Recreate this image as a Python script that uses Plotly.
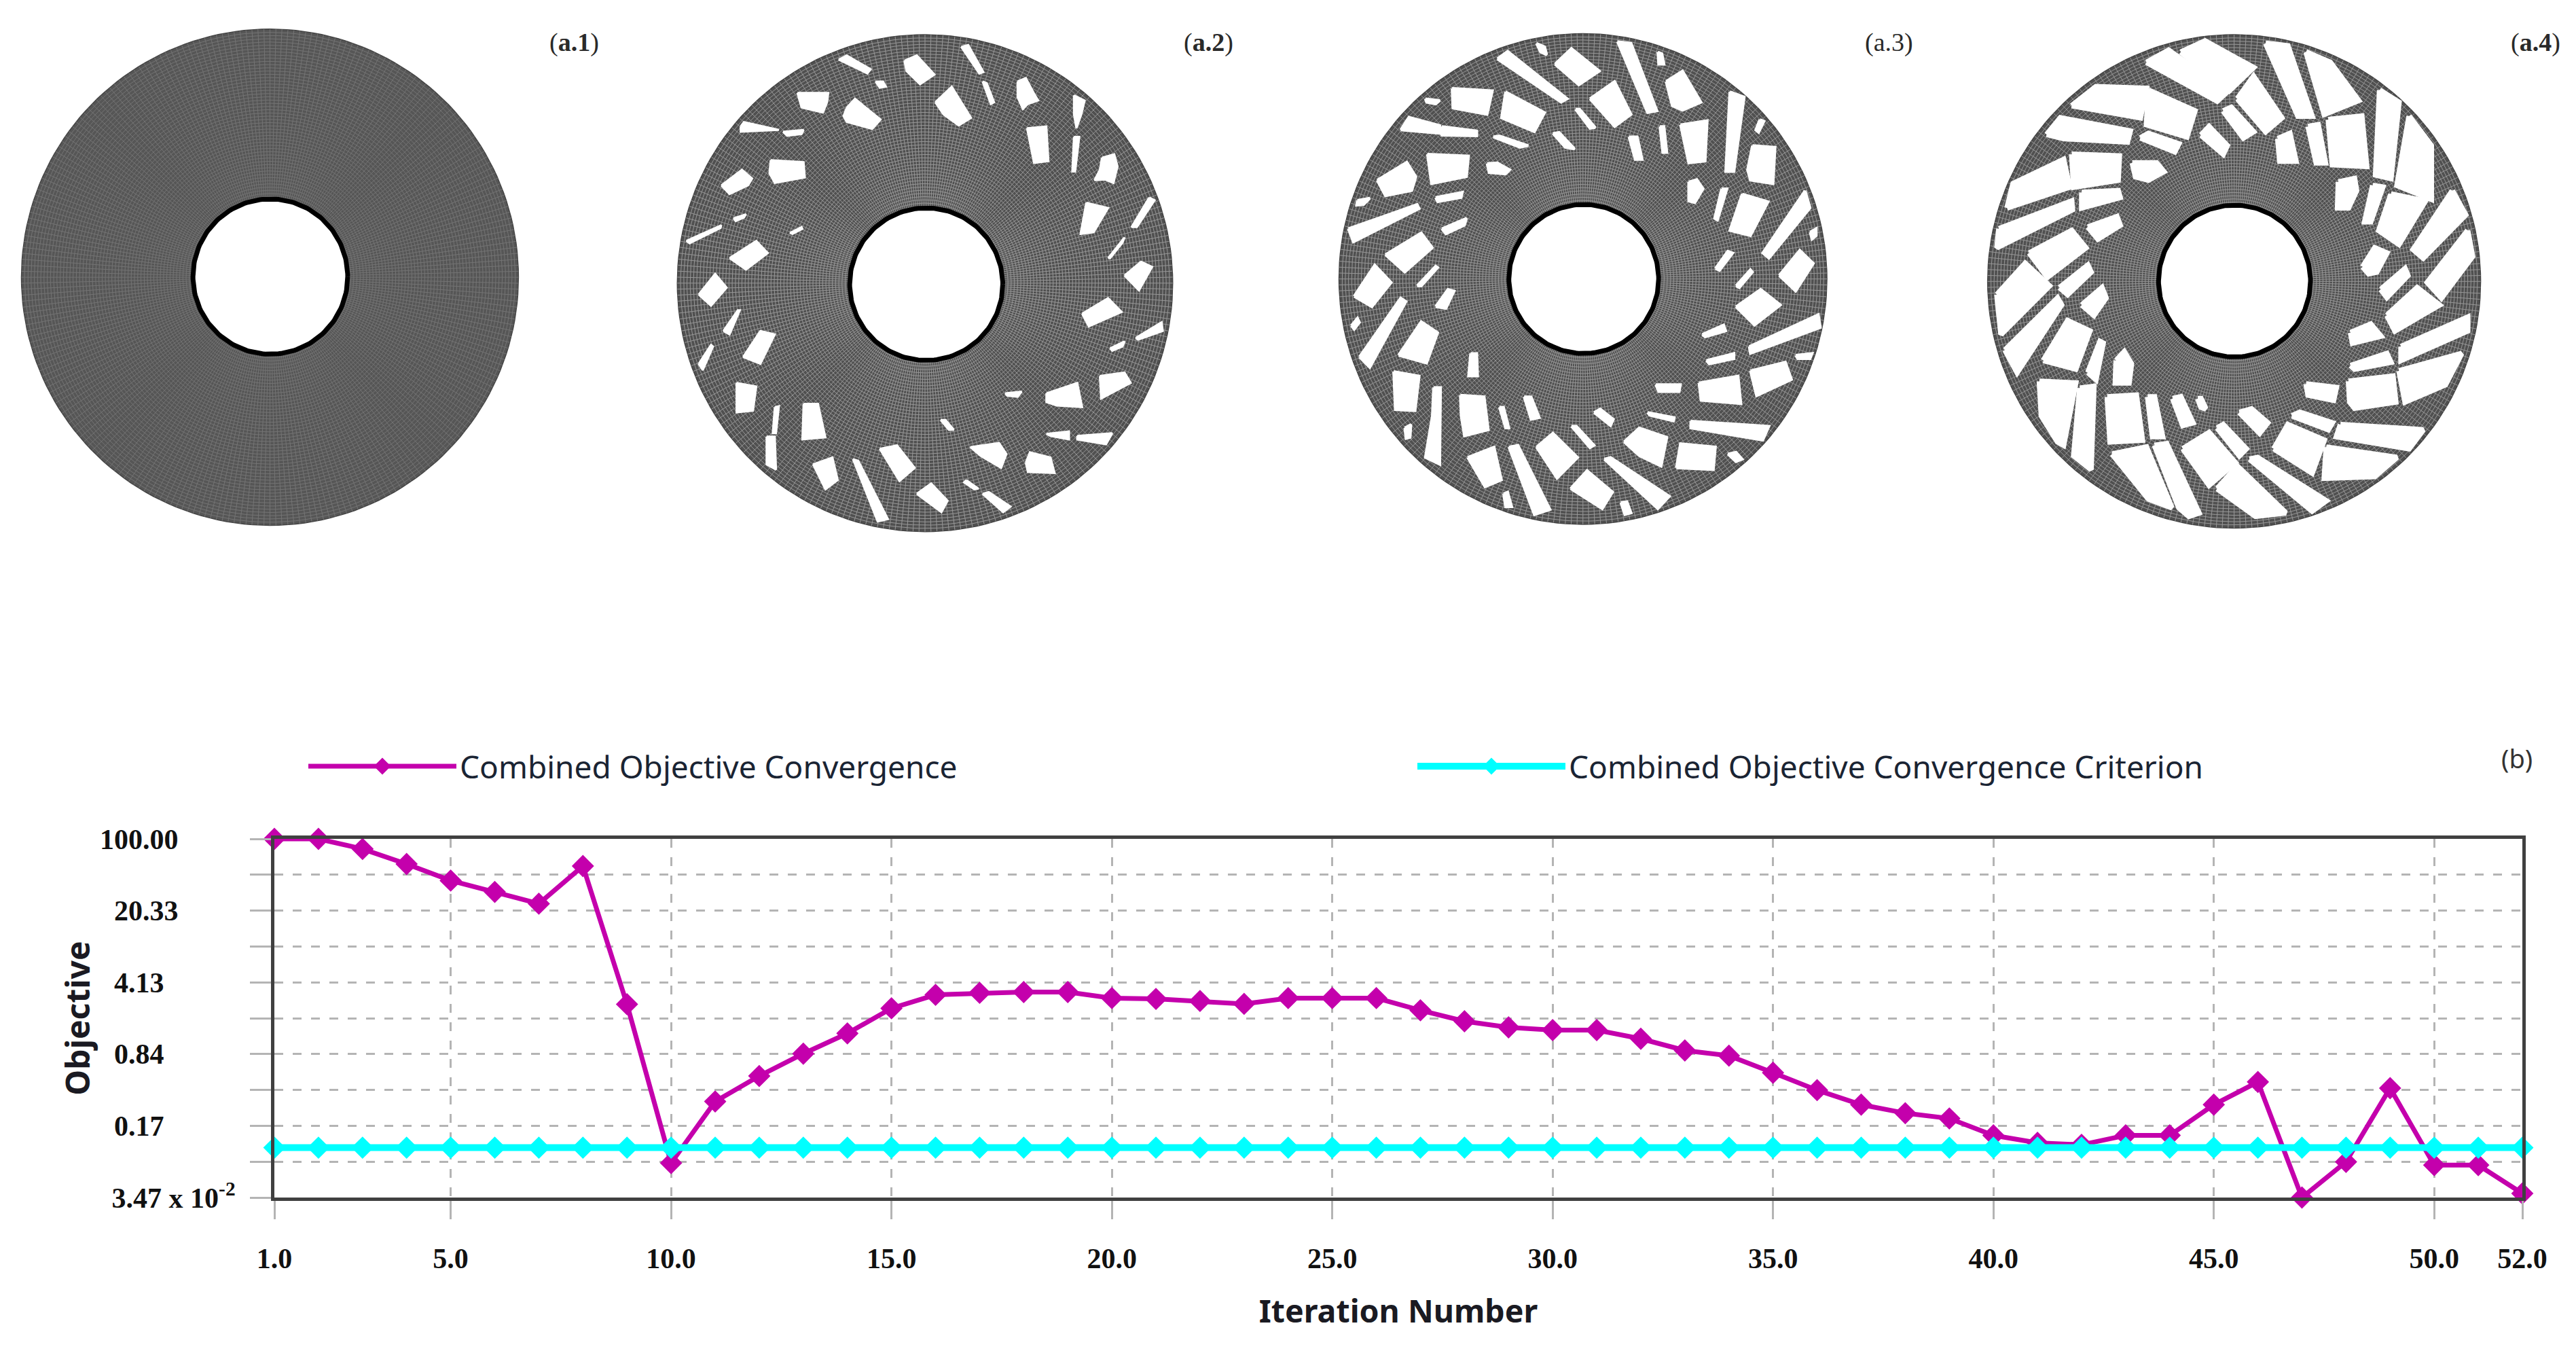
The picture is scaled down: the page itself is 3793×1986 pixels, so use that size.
import math
import plotly.graph_objects as go

W, H = 3793, 1986

# ---------- chart data ----------
iterations = list(range(1, 53))
objective = [100, 100, 79.9, 57.2, 39.6, 30.8, 23.7, 54.7, 2.54, 0.0746,
             0.293, 0.516, 0.847, 1.33, 2.32, 3.13, 3.27, 3.33, 3.33, 2.91,
             2.86, 2.73, 2.56, 2.91, 2.91, 2.91, 2.22, 1.74, 1.52, 1.43,
             1.43, 1.18, 0.91, 0.81, 0.555, 0.377, 0.273, 0.226, 0.201, 0.138,
             0.117, 0.112, 0.138, 0.138, 0.273, 0.452, 0.0347, 0.0766, 0.394, 0.0713,
             0.0713, 0.038]
criterion = [0.105] * 52
x_ticks = [1, 5, 10, 15, 20, 25, 30, 35, 40, 45, 50, 52]
x_labels = ["1.0", "5.0", "10.0", "15.0", "20.0", "25.0", "30.0", "35.0", "40.0", "45.0", "50.0", "52.0"]
y_ticks = [100, 20.33, 4.13, 0.84, 0.17, 0.0347]
y_minor_ticks = [45.1, 9.17, 1.86, 0.38, 0.077]
NB = "\u00a0"
y_labels = ["100.00" + NB * 8, "20.33" + NB * 8, "4.13" + NB * 10, "0.84" + NB * 10,
            "0.17" + NB * 10, "3.47 x 10<sup>-2</sup>"]

# ---------- disc geometry, in the 1568-unit frame of each panel ----------
disc_a1 = dict(left=0, width=950, outer=(656, 800, 604, 716), hole=(657, 798, 188, 224))
disc_a2 = dict(left=950, width=950, outer=(680, 817, 602, 717), hole=(683, 820, 186, 220))
disc_a3 = dict(left=1920, width=950, outer=(678, 805, 593, 708), hole=(680, 805, 182, 215))
disc_a4 = dict(left=2860, width=933, outer=(722, 812, 610, 712), hole=(723, 811, 188, 219))

voids_a1 = []
voids_a2 = [
 [(470,172),(490,160),(548,200),(540,212)], [(630,175),(660,160),(703,215),(668,243),(635,205)],
 [(768,135),(785,130),(822,208),(812,212)], [(560,235),(578,235),(585,250),(570,253)],
 [(820,235),(830,240),(848,295),(840,300)], [(905,235),(925,225),(945,270),(955,290),(930,300),(918,315),(905,280)],
 [(370,268),(445,268),(442,295),(432,325),(380,310)], [(490,310),(510,285),(572,345),(552,372),(490,352),(482,335)],
 [(705,295),(745,250),(792,340),(762,362),(725,330)], [(1042,275),(1068,290),(1060,330),(1048,370),(1042,330)],
 [(232,365),(240,352),(325,375),(232,380)], [(335,380),(385,375),(380,387),(345,392)],
 [(928,370),(975,365),(980,465),(945,470)], [(1042,395),(1055,395),(1045,495),(1038,495)],
 [(1110,455),(1140,445),(1148,480),(1138,528),(1118,518),(1092,520),(1105,490)],
 [(305,462),(385,468),(388,512),(315,528),(302,500)], [(185,535),(210,512),(235,490),(260,515),(250,535),(205,560)],
 [(1072,585),(1125,600),(1090,670),(1058,675)], [(1225,570),(1238,578),(1195,655),(1182,655)],
 [(100,695),(185,650),(183,658),(108,702)], [(215,630),(245,618),(240,628),(220,638)],
 [(352,672),(380,655),(382,660),(358,675)], [(205,745),(270,695),(298,730),(245,778)],
 [(1125,745),(1165,685),(1160,700),(1130,745)], [(1165,795),(1205,755),(1232,770),(1200,838)],
 [(130,850),(170,790),(198,830),(160,882)], [(1062,905),(1125,860),(1158,900),(1078,942)],
 [(190,955),(225,895),(230,895),(205,965)], [(238,1030),(280,955),(315,965),(280,1050)],
 [(130,1050),(160,995),(165,1000),(140,1068)], [(1192,975),(1255,930),(1258,955),(1198,980)],
 [(1130,1005),(1165,985),(1160,1000),(1135,1012)], [(1105,1085),(1165,1075),(1180,1105),(1108,1150)],
 [(222,1105),(270,1115),(262,1185),(222,1190)], [(975,1135),(1050,1105),(1062,1175),(1000,1170),(975,1160)],
 [(875,1135),(915,1130),(905,1145),(880,1142)], [(385,1165),(420,1165),(438,1262),(382,1268)],
 [(315,1175),(325,1172),(318,1250),(310,1250)], [(718,1212),(730,1212),(750,1240),(738,1240)],
 [(295,1260),(315,1260),(318,1355),(295,1340)], [(975,1252),(1030,1245),(1030,1268),(985,1258)],
 [(1050,1258),(1135,1250),(1120,1282),(1050,1268)], [(790,1290),(860,1278),(878,1310),(865,1350),(815,1315)],
 [(925,1335),(935,1305),(985,1320),(995,1365),(930,1362)], [(570,1295),(612,1285),(655,1350),(618,1388)],
 [(408,1340),(455,1320),(468,1385),(438,1412)], [(505,1325),(518,1330),(590,1498),(565,1505)],
 [(660,1425),(695,1395),(735,1445),(720,1478)], [(780,1385),(810,1410),(800,1412),(775,1392)],
 [(820,1425),(835,1420),(888,1462),(870,1478)],
]
voids_a3 = [
 [(470,170),(495,148),(640,285),(625,295)], [(610,185),(650,140),(718,205),(668,245)],
 [(762,120),(795,125),(858,320),(835,325)], [(565,125),(585,135),(590,158),(575,150)],
 [(860,150),(870,155),(875,185),(862,185)], [(880,235),(920,205),(965,295),(920,318),(895,305)],
 [(360,255),(458,262),(445,330),(362,312)], [(295,285),(330,290),(320,300),(298,295)],
 [(490,265),(585,325),(560,380),(480,340)], [(695,285),(755,235),(795,330),(755,365)],
 [(660,315),(670,315),(708,368),(695,370)], [(1035,265),(1070,280),(1045,495),(1025,495)],
 [(1108,345),(1118,350),(1105,382),(1098,375)], [(235,375),(255,338),(330,362),(330,385)],
 [(335,365),(420,378),(420,392),(335,390)], [(915,360),(980,348),(975,465),(935,470)],
 [(865,365),(875,365),(882,440),(872,440)], [(605,385),(620,382),(658,430),(635,425)],
 [(460,395),(475,392),(545,420),(525,425)], [(790,395),(810,395),(822,460),(805,460)],
 [(1090,420),(1145,425),(1140,530),(1085,520),(1078,490)], [(300,445),(400,450),(395,510),(310,530)],
 [(445,472),(470,470),(500,490),(490,502),(450,498)], [(178,520),(250,468),(272,510),(262,550),(198,565)],
 [(935,525),(955,518),(970,545),(950,585),(935,580)], [(1015,545),(1028,545),(1005,635),(998,630)],
 [(1065,560),(1128,582),(1085,680),(1035,665)], [(1218,550),(1230,600),(1130,745),(1115,730)],
 [(320,570),(385,555),(382,570),(325,582)], [(130,578),(160,572),(145,590),(128,592)],
 [(108,660),(275,590),(280,602),(120,698)], [(335,660),(395,630),(390,650),(345,675)],
 [(1230,670),(1245,660),(1245,680),(1235,690)], [(198,735),(285,672),(312,715),(245,785)],
 [(1000,775),(1030,725),(1042,730),(1010,780)], [(1155,795),(1205,722),(1238,760),(1195,840)],
 [(1050,825),(1085,778),(1090,785),(1058,830)], [(275,825),(320,768),(325,772),(285,825)],
 [(122,855),(172,765),(212,815),(165,885)], [(320,885),(350,835),(365,840),(345,890)],
 [(1050,885),(1110,835),(1158,880),(1095,938)], [(115,940),(130,918),(135,930),(122,950)],
 [(135,1030),(235,860),(248,870),(160,1060)], [(968,965),(1020,938),(1025,955),(975,972)],
 [(1082,1000),(1250,908),(1255,945),(1085,1020)], [(230,1025),(285,928),(325,960),(298,1048)],
 [(978,1040),(1045,1020),(1045,1035),(985,1050)], [(1195,1025),(1235,1020),(1230,1035),(1200,1035)],
 [(405,1020),(420,1020),(422,1085),(400,1085)], [(1085,1070),(1170,1045),(1185,1095),(1100,1142)],
 [(218,1072),(280,1085),(270,1185),(222,1182)], [(960,1105),(1055,1085),(1062,1165),(965,1155)],
 [(855,1110),(915,1110),(912,1130),(862,1130)], [(380,1140),(438,1145),(448,1240),(390,1258),(382,1200)],
 [(315,1118),(332,1118),(330,1340),(295,1320),(312,1200)], [(535,1145),(552,1145),(572,1205),(552,1210)],
 [(475,1175),(485,1175),(498,1235),(490,1235)], [(705,1190),(720,1180),(752,1210),(745,1228)],
 [(835,1190),(900,1205),(898,1215),(840,1198)], [(940,1215),(1130,1230),(1115,1270),(940,1235)],
 [(650,1230),(662,1230),(705,1285),(695,1292)], [(245,1235),(260,1225),(258,1262),(248,1265)],
 [(565,1290),(605,1250),(665,1320),(615,1380)], [(778,1275),(815,1235),(882,1262),(868,1345),(815,1315)],
 [(905,1350),(915,1280),(1000,1290),(995,1355)], [(1030,1310),(1050,1305),(1065,1325),(1050,1332)],
 [(398,1320),(462,1290),(480,1385),(440,1405)], [(498,1290),(520,1285),(598,1470),(560,1485)],
 [(730,1325),(745,1320),(888,1432),(860,1468)], [(648,1410),(688,1358),(750,1420),(725,1468)],
 [(485,1425),(495,1420),(505,1462),(490,1462)], [(770,1450),(785,1448),(795,1480),(780,1485)],
]
voids_a4 = [
 [(505,180),(560,145),(705,265),(680,292)], [(590,150),(650,118),(770,195),(710,262)],
 [(800,125),(855,132),(915,335),(880,335)], [(900,150),(960,180),(1030,290),(945,330)],
 [(320,305),(380,250),(505,255),(490,340)], [(510,260),(625,320),(605,395),(505,360)],
 [(730,285),(770,220),(840,340),(800,380)], [(695,320),(715,310),(770,380),(745,398)],
 [(258,388),(292,340),(465,378),(458,410),(300,400)], [(1082,260),(1130,295),(1110,515),(1072,505)],
 [(955,345),(1038,335),(1050,480),(965,475)], [(1155,335),(1210,420),(1210,575),(1125,535)],
 [(490,398),(510,385),(585,415),(575,438)], [(640,390),(660,365),(705,420),(695,445)],
 [(830,400),(860,385),(875,465),(835,465)], [(905,365),(930,360),(948,470),(925,470)],
 [(320,445),(438,450),(435,520),(325,540)], [(470,470),(530,470),(548,495),(510,520),(478,510)],
 [(160,600),(175,530),(300,460),(315,540)], [(140,660),(320,580),(322,605),(135,715)],
 [(345,555),(435,550),(440,570),(345,600)], [(360,655),(432,625),(440,650),(385,690)],
 [(980,525),(1020,515),(1025,550),(1005,600),(978,600)], [(1065,535),(1090,540),(1060,640),(1045,640)],
 [(1110,560),(1195,580),(1130,705),(1080,665)], [(1262,550),(1295,620),(1190,745),(1165,720)],
 [(1300,665),(1312,740),(1235,860),(1200,815)], [(215,730),(320,665),(355,715),(260,800)],
 [(1040,770),(1070,715),(1100,730),(1075,785),(1055,790)], [(1085,835),(1145,775),(1152,795),(1100,858)],
 [(290,830),(360,765),(368,785),(310,850)], [(135,850),(205,760),(265,825),(145,965)],
 [(345,880),(395,830),(405,860),(375,910)], [(155,1010),(285,860),(295,880),(185,1075)],
 [(1100,910),(1175,830),(1230,880),(1120,955)], [(1010,960),(1060,935),(1085,970),(1015,990)],
 [(1135,1000),(1300,915),(1300,955),(1135,1040)], [(250,1040),(310,925),(365,955),(330,1065)],
 [(360,1075),(390,985),(398,990),(380,1095)], [(430,1040),(450,1015),(468,1050),(462,1105),(428,1105)],
 [(1010,1055),(1100,1020),(1110,1045),(1020,1065)], [(1130,1070),(1285,1020),(1245,1110),(1145,1160)],
 [(1005,1100),(1115,1085),(1122,1160),(1020,1178),(1008,1160)], [(900,1108),(975,1118),(968,1155),(905,1140)],
 [(240,1100),(330,1105),(300,1285),(285,1275),(245,1200)], [(340,1120),(375,1115),(368,1355),(325,1315)],
 [(408,1145),(480,1140),(495,1270),(415,1275)], [(508,1145),(525,1145),(545,1260),(520,1260)],
 [(570,1150),(590,1145),(620,1220),(595,1228)], [(632,1150),(640,1150),(652,1180),(640,1175)],
 [(735,1190),(765,1180),(805,1220),(785,1250)], [(865,1200),(885,1190),(965,1220),(955,1240)],
 [(985,1225),(1190,1240),(1155,1295),(975,1260)], [(680,1235),(695,1225),(752,1295),(735,1315)],
 [(595,1295),(660,1248),(725,1335),(660,1400)], [(820,1295),(855,1225),(945,1270),(915,1365)],
 [(420,1310),(505,1290),(568,1465),(510,1440)], [(525,1285),(555,1280),(635,1480),(610,1490),(585,1465)],
 [(950,1290),(1125,1320),(1070,1375),(945,1380)], [(680,1410),(730,1345),(850,1480),(775,1490)],
 [(760,1325),(780,1320),(950,1445),(915,1475)],
]

panel_labels = [("(<b>a.1</b>)", 845), ("(<b>a.2</b>)", 1779), ("(a.3)", 2781), ("(<b>a.4</b>)", 3733)]
PANEL_H = 800
UNITS = 1568
N_RINGS, N_SPOKES = 52, 260


def ellipse(e, n=180, closed=True):
    cx, cy, rx, ry = e
    m = n + 1 if closed else n
    xs = [cx + rx * math.cos(2 * math.pi * i / n) for i in range(m)]
    ys = [cy + ry * math.sin(2 * math.pi * i / n) for i in range(m)]
    return xs, ys


def mesh(outer, hole):
    cx, cy, rx, ry = outer
    t0 = (hole[2] / rx)
    xs, ys = [], []
    for k in range(1, N_RINGS + 1):
        t = t0 + (1 - t0) * k / (N_RINGS + 1)
        a, b = ellipse((cx, cy, rx * t, ry * t), 240)
        xs += a + [None]
        ys += b + [None]
    for j in range(N_SPOKES):
        th = 2 * math.pi * j / N_SPOKES
        xs += [cx + rx * t0 * math.cos(th), cx + rx * math.cos(th), None]
        ys += [cy + ry * t0 * math.sin(th), cy + ry * math.sin(th), None]
    return xs, ys


fig = go.Figure()

panels = [(disc_a1, voids_a1, "#565656", "#747474", 0),
          (disc_a2, voids_a2, "#505050", "#989898", 3),
          (disc_a3, voids_a3, "#505050", "#989898", 4),
          (disc_a4, voids_a4, "#505050", "#989898", 8)]

layout_axes = {}
for i, (d, voids, base, line, stroke) in enumerate(panels):
    n = i + 2
    ax = dict(xaxis=f"x{n}", yaxis=f"y{n}", hoverinfo="skip", showlegend=False)
    bx, by = ellipse(d["outer"])
    fig.add_trace(go.Scatter(x=bx, y=by, mode="lines", fill="toself", fillcolor=base,
                             line=dict(color="#444444", width=1.5), **ax))
    mx, my = mesh(d["outer"], d["hole"])
    fig.add_trace(go.Scatter(x=mx, y=my, mode="lines", line=dict(color=line, width=1), **ax))
    if voids:
        vx, vy = [], []
        for poly in voids:
            vx += [p[0] for p in poly] + [poly[0][0], None]
            vy += [p[1] for p in poly] + [poly[0][1], None]
        fig.add_trace(go.Scatter(x=vx, y=vy, mode="lines", fill="toself", fillcolor="#ffffff",
                                 line=dict(color="#ffffff", width=stroke), **ax))
    hx, hy = ellipse(d["hole"])
    fig.add_trace(go.Scatter(x=hx, y=hy, mode="lines", fill="toself", fillcolor="#ffffff",
                             line=dict(color="#000000", width=7), **ax))
    layout_axes[f"xaxis{n}"] = dict(domain=[d["left"] / W, (d["left"] + d["width"]) / W],
                                    range=[0, UNITS], visible=False, anchor=f"y{n}")
    layout_axes[f"yaxis{n}"] = dict(domain=[1 - PANEL_H / H, 1], range=[UNITS, 0],
                                    visible=False, anchor=f"x{n}")

fig.add_trace(go.Scatter(x=iterations, y=objective, mode="lines+markers",
                         name="Combined Objective Convergence", cliponaxis=False,
                         line=dict(color="#C400AC", width=7),
                         marker=dict(symbol="diamond", size=22, color="#C400AC",
                                     line=dict(color="#C400AC", width=3))))
fig.add_trace(go.Scatter(x=iterations, y=criterion, mode="lines+markers",
                         name="Combined Objective Convergence Criterion", cliponaxis=False,
                         line=dict(color="#00FFFF", width=10),
                         marker=dict(symbol="diamond", size=22, color="#00FFFF",
                                     line=dict(color="#00FFFF", width=3))))

tick_font = dict(family="Liberation Serif", size=42, color="#111111", weight="bold")
title_font = dict(family="Noto Sans", color="#1a1a22", weight="bold")
GRID_COLOR = "#b4b4b4"
grid = dict(showgrid=True, gridcolor=GRID_COLOR, gridwidth=3, griddash="13px,14px", zeroline=False,
            showline=True, linecolor="#404040", linewidth=5, mirror=True,
            ticks="outside", tickcolor=GRID_COLOR, tickwidth=3, tickmode="array", tickfont=tick_font)

annotations = [dict(text=t, x=x / W, y=1 - 62 / H, xref="paper", yref="paper", showarrow=False,
                    xanchor="center", yanchor="middle",
                    font=dict(family="Liberation Serif", size=38, color="#2a2a2a"))
               for t, x in panel_labels]
annotations.append(dict(text="(b)", x=3706 / W, y=1 - 1116 / H, xref="paper", yref="paper", showarrow=False,
                        xanchor="center", yanchor="middle",
                        font=dict(family="Noto Sans", size=38, color="#333333")))

fig.update_layout(
    width=W, height=H, margin=dict(l=0, r=0, t=0, b=0), autosize=False,
    paper_bgcolor="#ffffff", plot_bgcolor="#ffffff",
    xaxis=dict(domain=[404 / W, 3714 / W], range=[1, 52], tickvals=x_ticks, ticktext=x_labels,
               ticklen=27, ticklabelstandoff=22, automargin=False, **grid,
               title=dict(text="Iteration Number", font=dict(size=46.5, **title_font), standoff=41)),
    yaxis=dict(domain=[1 - 1763 / H, 1 - 1235 / H], type="log",
               range=[math.log10(0.0347), 2], tickvals=y_ticks, ticktext=y_labels,
               minor=dict(tickmode="array", tickvals=y_minor_ticks, ticks="outside", ticklen=31,
                          tickcolor=GRID_COLOR, tickwidth=3, showgrid=True, gridcolor=GRID_COLOR,
                          gridwidth=3, griddash="13px,14px"),
               ticklen=31, ticklabelstandoff=13, automargin=False, **grid,
               title=dict(text="Objective", font=dict(size=48, **title_font), standoff=1)),
    legend=dict(orientation="h", x=449 / W, xanchor="left", y=1 - 1128 / H, yanchor="middle",
                itemwidth=218, entrywidth=1400, entrywidthmode="pixels",
                font=dict(family="Noto Sans", size=46, color="#1a2433"),
                bgcolor="rgba(0,0,0,0)", traceorder="normal"),
    annotations=annotations,
    **layout_axes,
)

fig.write_html("out.html", config=dict(displayModeBar=False),
               post_script="document.body.style.margin='0';")
